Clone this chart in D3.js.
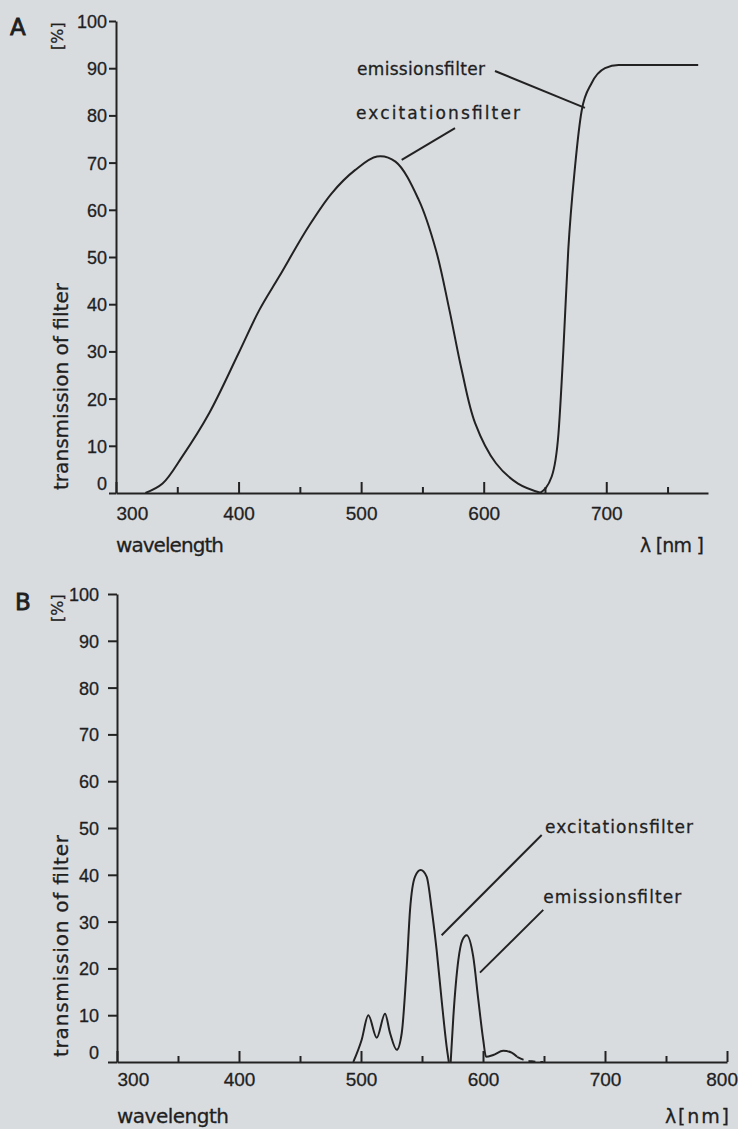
<!DOCTYPE html>
<html>
<head>
<meta charset="utf-8">
<script src="https://cdn.jsdelivr.net/npm/d3@7"></script>
<style>
  body { margin: 0; background: #d9dcdf; }
  svg { display: block; }
  text { fill: #1f1f1f; font-family: "DejaVu Sans", sans-serif; stroke: #1f1f1f; stroke-width: 0.3px; }
</style>
</head>
<body>
<div id="chart"></div>
<script>

// panel A, excitation filter (wavelength nm, transmission %)
var exA_nm  = [324, 338, 354, 376, 400, 417, 433, 457, 476, 495, 513, 528, 547, 561, 572, 582, 593, 610, 628, 647];
var exA_val = [0, 2, 7.7, 16.9, 29.6, 38.8, 45.8, 56.4, 63.5, 68.4, 71.3, 70.2, 62.1, 51.5, 38.8, 26.1, 14.8, 6.3, 2, 0];

// panel A, emission filter
var emA_nm  = [646, 655.5, 661, 665, 669, 674.5, 680, 688, 699, 710, 775];
var emA_val = [0, 3.5, 12.6, 30.3, 51.5, 69.1, 81.1, 86.8, 90, 90.7, 90.7];

// panel B, excitation filter
var exB_nm  = [493.7, 500.5, 506, 512.9, 519.7, 523.8, 529.3, 533.4, 537.5, 540.2, 544.3, 548.9, 553.8, 558, 562, 566.1, 570.2, 572];
var exB_val = [0, 4.7, 10, 5.2, 10.3, 6.2, 2.6, 6.2, 20.4, 32.5, 39.6, 41, 39.6, 32.5, 23.9, 13.2, 3.3, 0];

// panel B, emission filter (the tail after ~628 nm is dashed in the original)
var emB_nm  = [573.5, 575.7, 579.8, 583, 586.6, 592, 596.2, 600.2, 602.5, 608.4, 616.6, 623.5, 628];
var emB_val = [0, 9.7, 21.8, 26, 27.1, 22.5, 13.2, 4.7, 1.1, 1.5, 2.4, 2, 1.1];
var emB_tail_nm  = [628, 633, 640, 649.4];
var emB_tail_val = [1.1, 0.5, 0.15, 0];

var yTicks = [0, 10, 20, 30, 40, 50, 60, 70, 80, 90, 100];
var majorA = [300, 400, 500, 600, 700];
var minorA = [350, 450, 550, 650, 750];
var majorB = [300, 400, 500, 600, 700, 800];
var minorB = [350, 450, 550, 650, 750];

// annotation anchors in data units: label position, leader start, leader end
var notesA = [
  {text: "emissionsfilter",   at: [496.6, 88.6], from: [609.2, 89.4], to: [682.6, 81.6], len: 128},
  {text: "excitationsfilter", at: [495.8, 79.2], from: [576.6, 77.3], to: [533.1, 70.6], len: 164}
];
var notesB = [
  {text: "excitationsfilter", at: [650.8, 48.9], from: [648.1, 48.5], to: [566.1, 27.1], len: 148},
  {text: "emissionsfilter",   at: [649.4, 34.0], from: [649.4, 32.5], to: [597.5, 19.1], len: 138}
];

var ink = "#222";
var svg = d3.select("#chart").append("svg")
    .attr("width", 738)
    .attr("height", 1129);

function zip(a, b) {
  var out = [];
  for (var i = 0; i < a.length; i++) {
    out.push([a[i], b[i]]);
  }
  return out;
}

function drawPanel(p) {
  var x = d3.scaleLinear().domain(p.xDomain).range([p.left, p.right]);
  var y = d3.scaleLinear().domain([0, 100]).range([p.bottom, p.top]);

  // y axis
  var yAxis = d3.axisLeft(y)
      .tickValues(yTicks)
      .tickSize(p.yTick)
      .tickSizeOuter(0)
      .tickPadding(p.yPad);

  var gy = svg.append("g")
      .attr("transform", "translate(" + p.left + ",0)")
      .call(yAxis);
  gy.selectAll("text")
      .style("font-family", "'Liberation Sans', Arial, sans-serif")
      .style("font-size", "18px")
      .attr("fill", "#1f1f1f")
      .attr("dy", function(d) { return d == 0 ? "-0.2em" : "0.36em"; });

  // x axis, major ticks with labels, minor ticks without
  var xAxis = d3.axisBottom(x)
      .tickValues(p.major)
      .tickSizeInner(-11)
      .tickSizeOuter(0)
      .tickPadding(p.xPad)
      .tickFormat(d3.format("d"));

  var gx = svg.append("g")
      .attr("transform", "translate(0," + p.bottom + ")")
      .call(xAxis);
  gx.selectAll("text")
      .style("font-family", "'Liberation Sans', Arial, sans-serif")
      .style("font-size", "19px")
      .attr("fill", "#1f1f1f")
      .attr("text-anchor", function(d) {
        if (d == 300) return "start";
        if (d == 800) return "end";
        return "middle";
      })
      .attr("dx", function(d) { return d == 800 ? "0.55em" : null; });

  var gm = svg.append("g")
      .attr("transform", "translate(0," + p.bottom + ")")
      .call(d3.axisBottom(x).tickValues(p.minor).tickSizeInner(-6).tickSizeOuter(0).tickFormat(""));
  gm.select(".domain").remove();

  svg.selectAll(".domain, .tick line")
      .attr("stroke", ink)
      .attr("stroke-width", 2);

  // curves
  p.curves.forEach(function(c) {
    var line = d3.line()
        .x(function(d) { return x(d[0]); })
        .y(function(d) { return y(d[1]); })
        .curve(c.curve || d3.curveMonotoneX);

    svg.append("path")
        .datum(c.data)
        .attr("d", line)
        .attr("fill", "none")
        .attr("stroke", ink)
        .attr("stroke-width", 2)
        .attr("stroke-linejoin", "round")
        .attr("stroke-dasharray", c.dash || null);
  });

  // annotations and leaders
  p.notes.forEach(function(n) {
    svg.append("line")
        .attr("x1", x(n.from[0])).attr("y1", y(n.from[1]))
        .attr("x2", x(n.to[0])).attr("y2", y(n.to[1]))
        .attr("stroke", ink)
        .attr("stroke-width", 2);
    svg.append("text")
        .attr("x", x(n.at[0]))
        .attr("y", y(n.at[1]))
        .attr("font-size", "17px")
        .attr("textLength", n.len)
        .attr("lengthAdjust", "spacing")
        .text(n.text);
  });

  // panel letter
  svg.append("text")
      .attr("x", p.letterPos[0]).attr("y", p.letterPos[1])
      .attr("font-size", "23px")
      .style("stroke-width", "0.8px")
      .text(p.letter);

  // axis titles
  svg.append("text")
      .attr("transform", "translate(" + p.titleX + "," + p.titleY + ") rotate(-90)")
      .attr("font-size", "20px")
      .attr("textLength", p.titleLen)
      .attr("lengthAdjust", "spacing")
      .text("transmission of filter");

  svg.append("text")
      .attr("transform", "translate(63," + p.pctY + ") rotate(-90)")
      .attr("font-size", "16px")
      .text("[%]");

  svg.append("text")
      .attr("x", p.left)
      .attr("y", p.wlY)
      .attr("font-size", "20px")
      .attr("textLength", p.wlLen)
      .attr("lengthAdjust", "spacing")
      .text("wavelength");

  svg.append("text")
      .attr("x", p.unitX)
      .attr("y", p.wlY)
      .attr("font-size", "19px")
      .attr("textLength", 64)
      .attr("lengthAdjust", "spacing")
      .text(p.unit);
}

drawPanel({
  letter: "A", letterPos: [10, 35],
  xDomain: [300, 783], left: 116, right: 708, top: 21, bottom: 493,
  yTick: 7, yPad: 2, xPad: 14,
  major: majorA, minor: minorA,
  curves: [
    {data: zip(exA_nm, exA_val), curve: d3.curveCatmullRom.alpha(0.5)},
    {data: zip(emA_nm, emA_val)}
  ],
  notes: notesA,
  titleX: 68, titleY: 490, titleLen: 207, pctY: 50,
  wlY: 552, wlLen: 108, unitX: 640, unit: "λ [nm ]"
});

drawPanel({
  letter: "B", letterPos: [15, 610],
  xDomain: [300, 800], left: 117, right: 727, top: 594, bottom: 1062,
  yTick: 9, yPad: 9, xPad: 11,
  major: majorB, minor: minorB,
  curves: [
    {data: zip(exB_nm, exB_val)},
    {data: zip(emB_nm, emB_val)},
    {data: zip(emB_tail_nm, emB_tail_val), dash: "7,5"}
  ],
  notes: notesB,
  titleX: 68, titleY: 1057, titleLen: 222, pctY: 622,
  wlY: 1123, wlLen: 112, unitX: 665, unit: "λ[nm]"
});

</script>
</body>
</html>
